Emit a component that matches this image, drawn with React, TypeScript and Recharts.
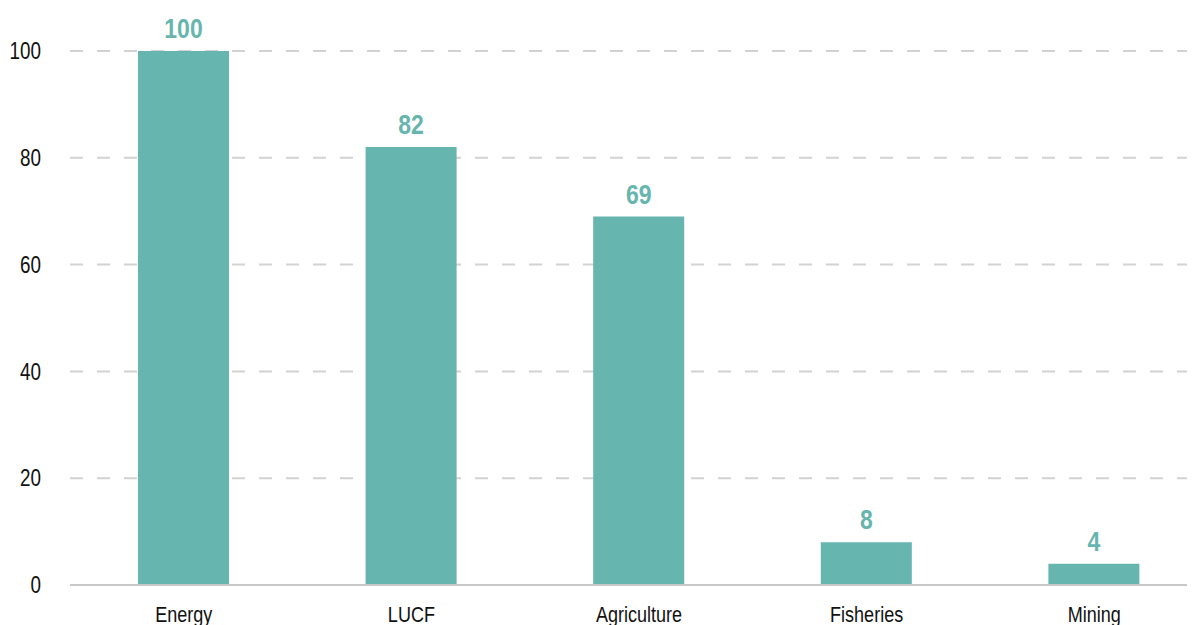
import { BarChart, Bar, XAxis, YAxis, CartesianGrid, LabelList } from "recharts";

const sectors = ["Energy", "LUCF", "Agriculture", "Fisheries", "Mining"];
const values = [100, 82, 69, 8, 4];
const yTicks = [0, 20, 40, 60, 80, 100];

const data = sectors.map((name, i) => ({ name, value: values[i] }));

// no narrow font installed, so squeeze Liberation Sans like Arial Narrow
const font = "'Liberation Sans', Arial, sans-serif";
const squeeze = 0.82;
const teal = "#66b5ae";

function XTick({ x, y, payload }: any) {
  return (
    <text
      transform={`translate(${x},${y}) scale(${squeeze},1)`}
      textAnchor="middle"
      dy="0.71em"
      fill="#111"
      fontSize={22}
      fontFamily={font}
    >
      {payload.value}
    </text>
  );
}

function YTick({ x, y, payload }: any) {
  return (
    <text
      transform={`translate(${x},${y}) scale(${squeeze},1)`}
      textAnchor="end"
      dy="0.355em"
      fill="#111"
      fontSize={23}
      fontFamily={font}
    >
      {payload.value}
    </text>
  );
}

function BarLabel({ x, y, width, value }: any) {
  const cx = Number(x) + Number(width) / 2;
  return (
    <text
      transform={`translate(${cx},${Number(y) - 13}) scale(${squeeze},1)`}
      textAnchor="middle"
      fill={teal}
      fontSize={28}
      fontWeight={700}
      fontFamily={font}
    >
      {value}
    </text>
  );
}

export default function App() {
  return (
    <div style={{ margin: "-8px 0 0 -8px", width: 1195, height: 625, overflow: "hidden" }}>
      <BarChart
        width={1208}
        height={625}
        data={data}
        margin={{ top: 51, right: 0, left: 0, bottom: 0 }}
      >
        <CartesianGrid
          vertical={false}
          stroke="#d2d2d2"
          strokeWidth={2}
          strokeDasharray="13 14"
          horizontalValues={[20, 40, 60, 80, 100]}
        />
        <XAxis
          dataKey="name"
          height={40}
          tickLine={false}
          axisLine={{ stroke: "#c8c8c8", strokeWidth: 2 }}
          tickMargin={15}
          tick={<XTick />}
        />
        <YAxis
          width={70}
          domain={[0, 100]}
          ticks={yTicks}
          axisLine={false}
          tickLine={false}
          tickMargin={23}
          tick={<YTick />}
        />
        <Bar dataKey="value" fill={teal} barSize={91} isAnimationActive={false}>
          <LabelList dataKey="value" content={<BarLabel />} />
        </Bar>
      </BarChart>
    </div>
  );
}
